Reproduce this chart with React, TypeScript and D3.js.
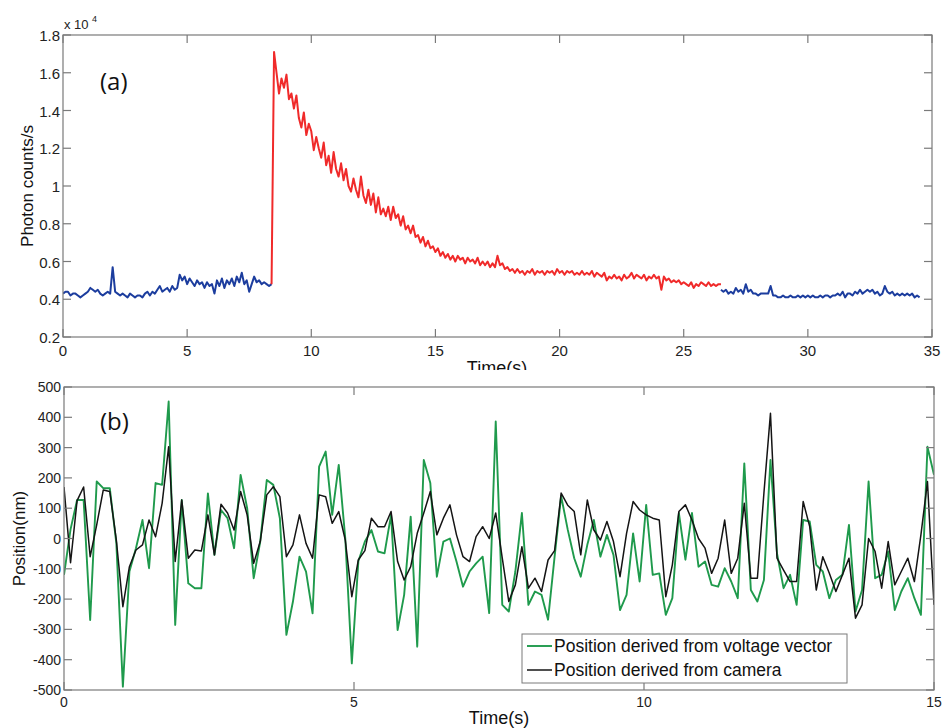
import React from "react";
import * as d3 from "d3";

// ---------- Panel (a): photon counts (values in thousands of counts/s), sampled every 0.1 s ----------
const countStep = 0.1;
const baselineBeforeStart = 0.0; // first blue trace starts at t = 0
const baselineBefore = [
  4.3, 4.4, 4.4, 4.2, 4.3, 4.3, 4.2, 4.1, 4.2, 4.3,
  4.4, 4.6, 4.5, 4.4, 4.5, 4.3, 4.2, 4.3, 4.4, 4.3,
  5.7, 4.4, 4.3, 4.2, 4.3, 4.2, 4.1, 4.3, 4.2, 4.1,
  4.2, 4.2, 4.1, 4.3, 4.4, 4.2, 4.4, 4.3, 4.5, 4.7,
  4.4, 4.5, 4.6, 4.4, 4.7, 4.5, 4.6, 5.3, 5.0, 5.2,
  4.8, 5.1, 4.9, 4.7, 5.0, 4.8, 4.9, 4.6, 4.9, 4.7,
  4.8, 4.3, 5.0, 4.7, 5.1, 4.6, 5.0, 4.8, 5.1, 4.7,
  5.2, 4.9, 5.4, 4.8, 5.0, 4.4, 4.8, 5.2, 4.9, 5.0,
  4.8, 4.9, 4.8, 4.7, 4.8,
];
const burstStart = 8.4; // red trace starts at t = 8.4
const burst = [
  4.8, 17.1, 16.0, 14.9, 15.7, 15.2, 15.9, 14.6, 14.9, 14.1,
  14.8, 13.6, 13.1, 13.9, 12.7, 13.3, 12.9, 11.9, 12.6, 12.0,
  11.5, 12.3, 11.1, 11.6, 10.7, 11.8, 10.9, 10.5, 11.2, 10.3,
  10.9, 10.0, 9.7, 10.4, 9.8, 9.4, 10.5, 9.5, 9.1, 9.8,
  9.0, 9.6, 8.6, 9.4, 8.5, 8.8, 8.4, 8.9, 8.2, 8.9,
  8.3, 8.5, 7.9, 8.4, 7.7, 7.9, 7.5, 7.9, 7.3, 7.4,
  7.0, 7.3, 6.8, 7.1, 6.7, 6.8, 6.5, 6.7, 6.3, 6.5,
  6.2, 6.4, 6.1, 6.3, 6.0, 6.3, 6.1, 6.2, 5.9, 6.2,
  6.0, 6.1, 5.9, 6.2, 5.8, 6.0, 5.8, 6.0, 5.7, 5.9,
  5.7, 6.3, 5.8, 5.9, 5.6, 5.7, 5.5, 5.6, 5.4, 5.6,
  5.4, 5.5, 5.3, 5.5, 5.4, 5.6, 5.3, 5.5, 5.4, 5.5,
  5.3, 5.5, 5.4, 5.5, 5.3, 5.6, 5.4, 5.5, 5.3, 5.5,
  5.4, 5.5, 5.3, 5.4, 5.3, 5.5, 5.3, 5.4, 5.3, 5.5,
  5.2, 5.4, 5.3, 5.2, 5.4, 5.0, 5.2, 5.1, 5.3, 5.1,
  5.2, 5.0, 5.3, 5.1, 5.2, 5.4, 5.1, 5.3, 5.2, 5.1,
  5.3, 5.0, 5.2, 5.1, 5.3, 5.1, 5.2, 4.5, 5.2, 5.0,
  5.1, 4.9, 5.0, 4.9, 5.0, 4.8, 4.9, 4.8, 4.7, 4.9,
  4.6, 4.8, 4.7, 4.9, 4.8, 4.7, 4.9, 4.7, 4.8, 4.7,
  4.8, 4.8,
];
const baselineAfterStart = 26.5;
const baselineAfter = [
  4.5, 4.4, 4.5, 4.3, 4.4, 4.3, 4.6, 4.4, 4.5, 4.3,
  4.8, 4.4, 4.5, 4.3, 4.3, 4.2, 4.3, 4.3, 4.3, 4.3,
  4.7, 4.2, 4.2, 4.1, 4.1, 4.2, 4.1, 4.1, 4.2, 4.1,
  4.1, 4.2, 4.1, 4.2, 4.1, 4.2, 4.1, 4.2, 4.1, 4.1,
  4.2, 4.1, 4.2, 4.2, 4.1, 4.2, 4.2, 4.3, 4.2, 4.4,
  4.1, 4.3, 4.3, 4.2, 4.4, 4.3, 4.5, 4.3, 4.4, 4.5,
  4.4, 4.5, 4.3, 4.4, 4.2, 4.3, 4.7, 4.4, 4.3, 4.4,
  4.2, 4.3, 4.2, 4.3, 4.2, 4.3, 4.2, 4.3, 4.1, 4.2,
  4.1,
];

// ---------- Panel (b): positions (nm), 134 samples spanning 0..15 s ----------
const posStep = 15 / 133;
const voltagePos = [
  -120, 30, 127, 127, -269, 188, 166, 166, -15, -489,
  -109, -32, 61, -98, 183, 177, 452, -285, 127, -148,
  -164, -164, 149, -54, 94, 67, -32, 210, 100, -131,
  -10, 193, 177, 67, -318, -208, -60, -109, -247, 237,
  287, 78, 243, 0, -412, -75, -10, 28, -43, -49,
  78, -302, -186, 72, -357, 259, 183, -126, -10, 0,
  -76, -159, -109, -82, -60, -246, 386, -219, -241, -109,
  84, -219, -175, -186, -268, -60, 140, 30, -65, -126,
  -21, 61, -60, 12, -54, -236, -186, 17, -142, 111,
  -120, -115, -252, -197, 84, -70, 84, -93, -76, -153,
  -159, -98, -142, -197, 248, -170, -208, -137, 259, -49,
  -164, -120, -219, 61, 56, -87, -109, -197, -137, -120,
  45, -241, -170, 188, -131, -120, -43, -236, -175, -131,
  -197, -252, 303, 210,
];
const cameraPos = [
  170, -80, 125, 170, -60, 45, 160, 155, -5, -225,
  -93, -38, -21, 61, 6, 116, 303, -76, 127, -65,
  -38, -41, 78, -54, 113, 84, 28, 155, 78, -82,
  -10, 144, 171, 138, -60, -21, 78, -16, -65, 144,
  138, 50, 89, -5, -192, -70, -40, 67, 39, 39,
  89, -76, -137, -93, 17, 84, 155, 12, 67, 111,
  12, -60, -76, 6, 39, 0, 84, -65, -208, -153,
  -27, -164, -131, -175, -71, -40, 150, 110, 89, -54,
  127, 28, -5, 56, -10, -126, 17, 122, 94, 78,
  67, 61, -192, -87, 89, 111, 61, 0, -32, -115,
  -65, 61, -115, -65, 116, -131, -131, 150, 413, -65,
  -104, -142, -142, 122, 39, -170, -60, -115, -175, -120,
  -65, -263, -219, 0, -43, -164, -10, -153, -109, -65,
  -142, 12, 188, -219,
];

const topXTicks = [0, 5, 10, 15, 20, 25, 30, 35];
const topYTicks = [2000, 4000, 6000, 8000, 10000, 12000, 14000, 16000, 18000];
const botXTicks = [0, 5, 10, 15];
const botYTicks = [-500, -400, -300, -200, -100, 0, 100, 200, 300, 400, 500];
const legendLabels = ["Position derived from voltage vector", "Position derived from camera"];

const BLUE = "#1c3d9e";
const RED = "#f02a2a";
const GREEN = "#1f9a4c";
const BLACK = "#141414";
const AXIS = "#7a7a7a";
const FONT = "'Liberation Sans', Arial, sans-serif";

type Pt = [number, number];
const toPts = (start: number, step: number, vals: number[], scale = 1): Pt[] =>
  vals.map((v, i) => [start + i * step, v * scale]);

export default function App() {
  // scales
  const xA = d3.scaleLinear().domain([0, 35]).range([63, 932]);
  const yA = d3.scaleLinear().domain([2000, 18000]).range([337, 35]);
  const xB = d3.scaleLinear().domain([0, 15]).range([64, 934]);
  const yB = d3.scaleLinear().domain([-500, 500]).range([690, 387]);

  const lineA = d3.line<Pt>().x((d) => xA(d[0])).y((d) => yA(d[1]));
  const lineB = d3.line<Pt>().x((d) => xB(d[0])).y((d) => yB(d[1]));

  const blue1 = lineA(toPts(baselineBeforeStart, countStep, baselineBefore, 1000)) || "";
  const red = lineA(toPts(burstStart, countStep, burst, 1000)) || "";
  const blue2 = lineA(toPts(baselineAfterStart, countStep, baselineAfter, 1000)) || "";
  const green = lineB(toPts(0, posStep, voltagePos)) || "";
  const black = lineB(toPts(0, posStep, cameraPos)) || "";

  const tick = 8;
  const [a0, a1] = xA.range();
  const [aBot, aTop] = yA.range();
  const [b0, b1] = xB.range();
  const [bBot, bTop] = yB.range();

  const fmtA = (v: number) => String(+(v / 10000).toFixed(1));

  return (
    <svg
      width={943}
      height={728}
      style={{ position: "absolute", left: 0, top: 0, background: "#fff" }}
      fontFamily={FONT}
    >
      <defs>
        <clipPath id="clipA">
          <rect x={a0} y={aTop} width={a1 - a0} height={aBot - aTop} />
        </clipPath>
        <clipPath id="clipB">
          <rect x={b0} y={bTop} width={b1 - b0} height={bBot - bTop} />
        </clipPath>
        <clipPath id="clipTopLabel">
          <rect x={0} y={0} width={943} height={370} />
        </clipPath>
      </defs>
      <rect width={943} height={728} fill="#fff" />

      {/* ===== Panel (a) ===== */}
      <g clipPath="url(#clipA)" fill="none" strokeWidth={2} strokeLinejoin="round">
        <path d={blue1} stroke={BLUE} />
        <path d={red} stroke={RED} />
        <path d={blue2} stroke={BLUE} />
      </g>
      <rect x={a0} y={aTop} width={a1 - a0} height={aBot - aTop} fill="none" stroke={AXIS} strokeWidth={1.2} />
      {topXTicks.map((t) => (
        <g key={"ax" + t}>
          <line x1={xA(t)} x2={xA(t)} y1={aBot} y2={aBot - tick} stroke={AXIS} strokeWidth={1.2} />
          <line x1={xA(t)} x2={xA(t)} y1={aTop} y2={aTop + tick} stroke={AXIS} strokeWidth={1.2} />
          <text x={xA(t)} y={356} textAnchor="middle" fontSize={15} fill="#222">
            {t}
          </text>
        </g>
      ))}
      {topYTicks.map((v) => (
        <g key={"ay" + v}>
          <line x1={a0} x2={a0 + tick} y1={yA(v)} y2={yA(v)} stroke={AXIS} strokeWidth={1.2} />
          <line x1={a1} x2={a1 - tick} y1={yA(v)} y2={yA(v)} stroke={AXIS} strokeWidth={1.2} />
          <text x={60} y={yA(v) + 6} textAnchor="end" fontSize={15} fill="#222">
            {fmtA(v)}
          </text>
        </g>
      ))}
      <text x={64} y={29} fontSize={13} fill="#222">
        x 10
      </text>
      <text x={92} y={22} fontSize={9} fill="#222">
        4
      </text>
      <text x={100} y={90} fontSize={24} fill="#111" fontFamily="'Open Sans', 'Liberation Sans', sans-serif">
        (a)
      </text>
      <text
        transform={`translate(33,${(aTop + aBot) / 2}) rotate(-90)`}
        textAnchor="middle"
        fontSize={17}
        fill="#111"
      >
        Photon counts/s
      </text>
      <g clipPath="url(#clipTopLabel)">
        <text x={497} y={374} textAnchor="middle" fontSize={18} fill="#111">
          Time(s)
        </text>
      </g>

      {/* ===== Panel (b) ===== */}
      <g clipPath="url(#clipB)" fill="none" strokeWidth={1.9} strokeLinejoin="round">
        <path d={green} stroke={GREEN} />
        <path d={black} stroke={BLACK} strokeWidth={1.5} />
      </g>
      <rect x={b0} y={bTop} width={b1 - b0} height={bBot - bTop} fill="none" stroke={AXIS} strokeWidth={1.2} />
      {botXTicks.map((t) => (
        <g key={"bx" + t}>
          <line x1={xB(t)} x2={xB(t)} y1={bBot} y2={bBot - tick} stroke={AXIS} strokeWidth={1.2} />
          <line x1={xB(t)} x2={xB(t)} y1={bTop} y2={bTop + tick} stroke={AXIS} strokeWidth={1.2} />
          <text x={xB(t)} y={707} textAnchor="middle" fontSize={14} fill="#222">
            {t}
          </text>
        </g>
      ))}
      {botYTicks.map((v) => (
        <g key={"by" + v}>
          <line x1={b0} x2={b0 + tick} y1={yB(v)} y2={yB(v)} stroke={AXIS} strokeWidth={1.2} />
          <line x1={b1} x2={b1 - tick} y1={yB(v)} y2={yB(v)} stroke={AXIS} strokeWidth={1.2} />
          <text x={61} y={yB(v) + 5} textAnchor="end" fontSize={14} fill="#222">
            {v}
          </text>
        </g>
      ))}
      <text x={100} y={430} fontSize={24} fill="#111" fontFamily="'Open Sans', 'Liberation Sans', sans-serif">
        (b)
      </text>
      <text
        transform={`translate(25,${(bTop + bBot) / 2}) rotate(-90)`}
        textAnchor="middle"
        fontSize={17}
        fill="#111"
      >
        Position(nm)
      </text>
      <text x={499} y={724} textAnchor="middle" fontSize={18} fill="#111">
        Time(s)
      </text>

      {/* legend */}
      <g>
        <rect x={522} y={634} width={325} height={49} fill="#fff" stroke={AXIS} strokeWidth={1} />
        {legendLabels.map((lab, i) => (
          <g key={lab}>
            <line
              x1={527}
              x2={552}
              y1={646 + i * 24}
              y2={646 + i * 24}
              stroke={i === 0 ? GREEN : BLACK}
              strokeWidth={i === 0 ? 1.9 : 1.5}
            />
            <text x={554} y={652 + i * 24} fontSize={17.5} fill="#111">
              {lab}
            </text>
          </g>
        ))}
      </g>
    </svg>
  );
}
